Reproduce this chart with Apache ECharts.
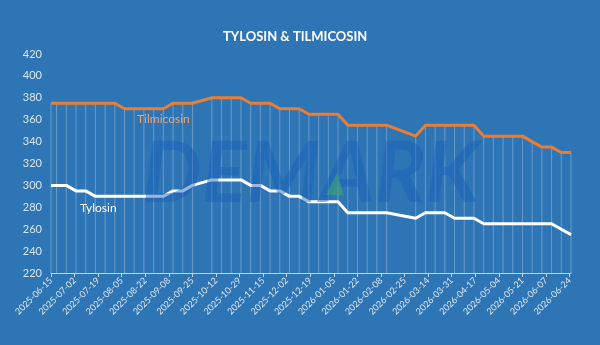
<!DOCTYPE html>
<html>
<head>
<meta charset="utf-8">
<script src="https://cdn.jsdelivr.net/npm/echarts@6/dist/echarts.min.js"></script>
<style>
  html, body { margin: 0; padding: 0; background: #2E75B6; }
  #chart { width: 600px; height: 345px; }
</style>
</head>
<body>
<div id="chart"></div>
<script>
// weekly quotes (holiday weeks missing)
const dates = [
  '2025-06-15', '2025-06-19', '2025-06-26', '2025-07-03', '2025-07-10', '2025-07-17', '2025-07-24', '2025-07-31',
  '2025-08-07', '2025-08-14', '2025-08-21', '2025-08-28', '2025-09-04', '2025-09-11', '2025-09-18', '2025-09-25',
  '2025-10-09', '2025-10-16', '2025-10-23', '2025-10-30', '2025-11-06', '2025-11-13', '2025-11-20', '2025-11-27',
  '2025-12-04', '2025-12-11', '2025-12-18', '2025-12-25', '2026-01-01', '2026-01-08', '2026-01-15', '2026-01-22',
  '2026-01-29', '2026-02-05', '2026-02-12',
  '2026-03-05', '2026-03-12', '2026-03-19', '2026-03-26', '2026-04-02', '2026-04-09', '2026-04-16', '2026-04-23',
  '2026-04-30', '2026-05-07', '2026-05-14', '2026-05-21', '2026-05-28', '2026-06-04', '2026-06-11', '2026-06-18',
  '2026-06-25'
];
const tilmicosin = [
  375, 375, 375, 375, 375, 375, 375, 375,
  370, 370, 370, 370, 370, 375, 375, 375,
  380, 380, 380, 380, 375, 375, 375, 370,
  370, 370, 365, 365, 365, 365, 355, 355,
  355, 355, 355,
  345, 355, 355, 355, 355, 355, 355, 345,
  345, 345, 345, 345, 340, 335, 335, 330,
  330
];
const tylosin = [
  300, 300, 300, 295, 295, 290, 290, 290,
  290, 290, 290, 290, 290, 295, 295, 300,
  305, 305, 305, 305, 300, 300, 295, 295,
  290, 290, 285, 285, 285, 285, 275, 275,
  275, 275, 275,
  270, 275, 275, 275, 270, 270, 270, 265,
  265, 265, 265, 265, 265, 265, 265, 260,
  255
];
const tickLabels = [
  '2025-06-15', '2025-07-02', '2025-07-19', '2025-08-05', '2025-08-22', '2025-09-08', '2025-09-25', '2025-10-12',
  '2025-10-29', '2025-11-15', '2025-12-02', '2025-12-19', '2026-01-05', '2026-01-22', '2026-02-08', '2026-02-25',
  '2026-03-14', '2026-03-31', '2026-04-17', '2026-05-04', '2026-05-21', '2026-06-07', '2026-06-24'
];
const tickStep = 17; // days between axis labels

const startMs = Date.parse(dates[0]);
const toDay = (s) => (Date.parse(s) - startMs) / 86400000;
const days = dates.map(toDay);

const chart = echarts.init(document.getElementById('chart'));
const font = 'Lato, "Open Sans", sans-serif';

chart.setOption({
  backgroundColor: '#2E75B6',
  animation: false,
  textStyle: { fontFamily: font },
  title: {
    text: 'TYLOSIN & TILMICOSIN',
    left: 218,
    top: 25,
    textStyle: { color: '#FFFFFF', fontSize: 13, fontWeight: 'bold', fontFamily: font }
  },
  grid: { left: 51, right: 29, top: 54, bottom: 72 },
  xAxis: {
    type: 'value',
    min: 0,
    max: days[days.length - 1],
    interval: tickStep,
    splitLine: { show: false },
    axisLine: { show: true, lineStyle: { color: '#C8D4E4', width: 1 } },
    axisTick: { show: true, length: 4, lineStyle: { color: '#C8D4E4' } },
    axisLabel: {
      rotate: 45,
      fontSize: 9,
      color: '#DCE6F2',
      margin: 6,
      showMaxLabel: false,
      formatter: (v) => (v % tickStep === 0 ? tickLabels[v / tickStep] || '' : '')
    }
  },
  yAxis: {
    type: 'value',
    min: 220,
    max: 420,
    interval: 20,
    axisLine: { show: false },
    axisTick: { show: false },
    splitLine: { show: false },
    axisLabel: { color: '#DCE6F2', fontSize: 11, margin: 9 }
  },
  series: [
    {
      // drop lines from the top series down to the axis
      name: 'drop',
      type: 'bar',
      barWidth: 1,
      silent: true,
      itemStyle: { color: 'rgba(255,255,255,0.28)' },
      data: days.map((d, i) => [d, tilmicosin[i]]),
      z: 1
    },
    {
      name: 'Tilmicosin',
      type: 'line',
      symbol: 'none',
      lineStyle: { color: '#ED7D31', width: 3 },
      data: days.map((d, i) => [d, tilmicosin[i]]),
      z: 3
    },
    {
      name: 'Tylosin',
      type: 'line',
      symbol: 'none',
      lineStyle: { color: '#FFFFFF', width: 3 },
      data: days.map((d, i) => [d, tylosin[i]]),
      z: 3
    }
  ],
  graphic: [
    {
      type: 'text', left: 137, top: 113, z: 10,
      style: { text: 'Tilmicosin', fill: '#F2A46C', fontSize: 12, fontFamily: font }
    },
    {
      type: 'text', left: 80, top: 202, z: 10,
      style: { text: 'Tylosin', fill: '#FFFFFF', fontSize: 12, fontFamily: font }
    },
    {
      // watermark
      type: 'text', left: 142, top: 133, z: 50,
      style: {
        text: 'DEMARK', fontSize: 84, fontWeight: 'bold', fontStyle: 'italic',
        fontFamily: font, fill: 'rgba(25,95,185,0.45)'
      }
    },
    {
      type: 'polygon', z: 51,
      shape: { points: [[326, 195], [344, 195], [337, 173]] },
      style: { fill: 'rgba(60,170,110,0.55)' }
    }
  ]
});
</script>
</body>
</html>
